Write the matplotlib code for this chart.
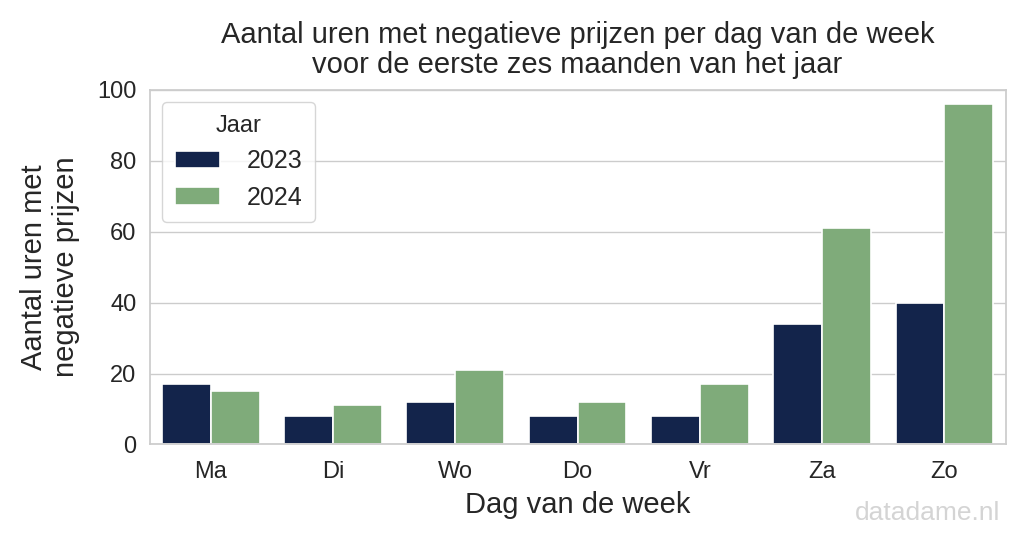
import matplotlib
matplotlib.use("Agg")
import matplotlib.pyplot as plt
import numpy as np
import seaborn as sns

days = ["Ma", "Di", "Wo", "Do", "Vr", "Za", "Zo"]
years = ["2023", "2024"]
hours_2023 = [17, 8, 12, 8, 8, 34, 40]
hours_2024 = [15, 11, 21, 12, 17, 61, 96]

colors = ["#13244b", "#7fab7a"]

sns.set_theme(style="whitegrid")
plt.rcParams["font.family"] = ["Liberation Sans", "DejaVu Sans"]

fig, ax = plt.subplots(figsize=(10.24, 5.44), dpi=100)

x = np.arange(len(days))
w = 0.4
for i, (vals, label) in enumerate(zip([hours_2023, hours_2024], years)):
    ax.bar(x + (i - 0.5) * w, vals, width=w, color=colors[i],
           edgecolor="white", linewidth=1.2, label=label)

ax.set_xticks(x)
ax.set_xticklabels(days, fontsize=17)
ax.tick_params(axis="y", labelsize=17)
ax.tick_params(axis="x", pad=6)
ax.set_xlim(-0.5, len(days) - 0.5)
ax.set_ylim(0, 100)
ax.set_yticks([0, 20, 40, 60, 80, 100])
ax.xaxis.grid(False)
ax.set_axisbelow(True)

ax.set_xlabel("Dag van de week", fontsize=21, labelpad=6)
ax.set_ylabel("Aantal uren met\nnegatieve prijzen", fontsize=21,
              linespacing=1.2, labelpad=12)
ax.set_title("Aantal uren met negatieve prijzen per dag van de week\n"
             "voor de eerste zes maanden van het jaar", fontsize=21,
             linespacing=1.1, pad=12)

ax.legend(title="Jaar", fontsize=18, title_fontsize=17, loc="upper left",
          frameon=True, borderpad=0.5, labelspacing=0.5,
          handlelength=1.8, handletextpad=1.1)

fig.text(0.977, 0.057, "datadame.nl", ha="right", va="center",
         fontsize=19, color="#d4d4d4")

fig.subplots_adjust(left=0.146, right=0.982, top=0.835, bottom=0.183)
fig.savefig("out.png", dpi=100)
